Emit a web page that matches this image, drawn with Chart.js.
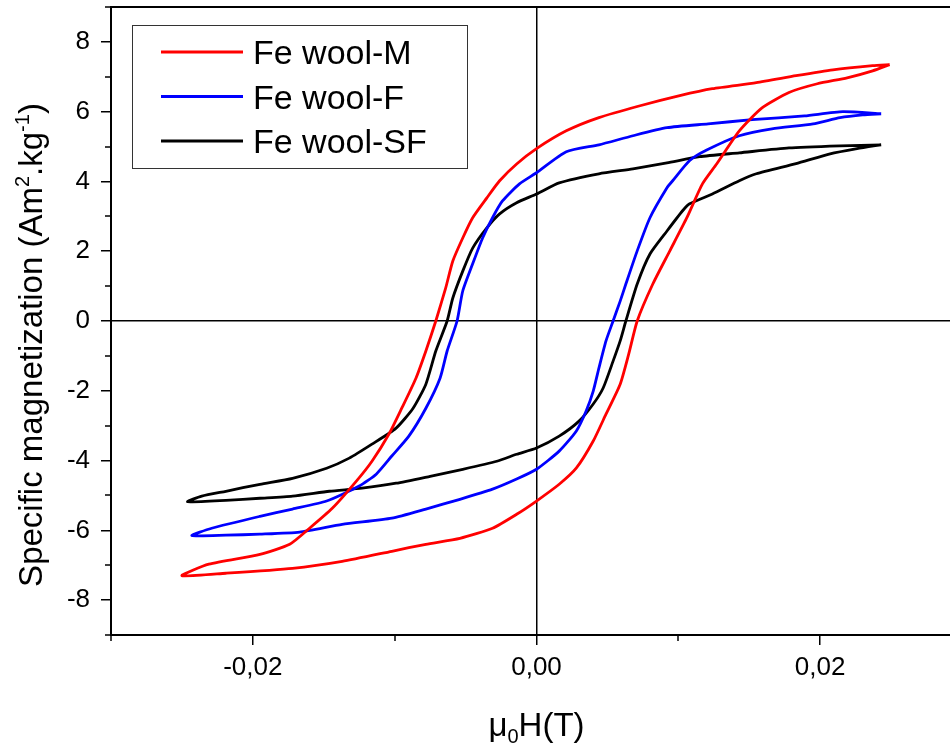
<!DOCTYPE html>
<html>
<head>
<meta charset="utf-8">
<script src="https://cdn.jsdelivr.net/npm/chart.js@4.4.1/dist/chart.umd.min.js"></script>
<style>
  html, body { margin: 0; padding: 0; background: #fff; overflow: hidden; }
  canvas { display: block; }
</style>
</head>
<body>
<canvas id="loopChart" width="970" height="744"></canvas>
<script>
const fieldTicks = [-0.02, 0, 0.02];
const fieldMinor = [-0.03, -0.01, 0.01, 0.03];
const magTicks = [-8, -6, -4, -2, 0, 2, 4, 6, 8];
const magMinor = [-9, -7, -5, -3, -1, 1, 3, 5, 7, 9];

const seriesNames = ['Fe wool-M', 'Fe wool-F', 'Fe wool-SF'];
const seriesColors = ['#ff0000', '#0000ff', '#000000'];

// [mu0H (T), magnetization (Am2/kg)] - descending branch first, then back up
const loopM = [
    [0.0249, 7.35], [0.0237, 7.32], [0.0209, 7.20], [0.0183, 7.03], [0.0155, 6.83],
    [0.0124, 6.66], [0.0101, 6.46], [0.0073, 6.17], [0.0044, 5.83], [0.0021, 5.45],
    [0.0, 4.94], [-0.0014, 4.50], [-0.0026, 4.02], [-0.0035, 3.53], [-0.0045, 2.96],
    [-0.0052, 2.38], [-0.0059, 1.72], [-0.0064, 0.95], [-0.0071, 0.0], [-0.0078, -0.86],
    [-0.0085, -1.64], [-0.0095, -2.50], [-0.0104, -3.24], [-0.0116, -4.02], [-0.0127, -4.59],
    [-0.0144, -5.37], [-0.0160, -5.94], [-0.0174, -6.40], [-0.0195, -6.69], [-0.0231, -6.97],
    [-0.0250, -7.30],
    [-0.0219, -7.23], [-0.0172, -7.09], [-0.0137, -6.89], [-0.0102, -6.60], [-0.0078, -6.40],
    [-0.0054, -6.23], [-0.0031, -5.94], [-0.0014, -5.54], [0.0, -5.16], [0.0016, -4.68],
    [0.0028, -4.22], [0.0040, -3.44], [0.0049, -2.67], [0.0059, -1.81], [0.0065, -0.95],
    [0.0071, 0.0], [0.0082, 1.06], [0.0094, 2.01], [0.0106, 2.96], [0.0117, 3.93],
    [0.0127, 4.50], [0.0143, 5.45], [0.0159, 6.11], [0.0178, 6.55], [0.0198, 6.80],
    [0.0219, 6.97], [0.0237, 7.17], [0.0249, 7.35]
];

const loopF = [
    [0.0243, 5.94], [0.0216, 6.00], [0.0189, 5.88], [0.0152, 5.77], [0.0121, 5.65],
    [0.0092, 5.54], [0.0068, 5.31], [0.0044, 5.05], [0.0021, 4.85], [0.0, 4.25],
    [-0.0012, 3.93], [-0.0024, 3.44], [-0.0031, 2.96], [-0.0038, 2.38], [-0.0045, 1.64],
    [-0.0052, 0.86], [-0.0056, 0.0], [-0.0063, -0.86], [-0.0068, -1.64], [-0.0078, -2.50],
    [-0.0090, -3.30], [-0.0102, -3.87], [-0.0113, -4.39], [-0.0125, -4.73], [-0.0148, -5.16],
    [-0.0172, -5.39], [-0.0195, -5.60], [-0.0229, -5.94], [-0.0243, -6.15],
    [-0.0219, -6.14], [-0.0195, -6.11], [-0.0167, -6.05], [-0.0137, -5.83], [-0.0102, -5.65],
    [-0.0078, -5.39], [-0.0054, -5.11], [-0.0031, -4.82], [-0.0014, -4.53], [0.0, -4.25],
    [0.0016, -3.73], [0.0028, -3.16], [0.0035, -2.58], [0.0040, -2.01], [0.0044, -1.35],
    [0.0049, -0.57], [0.0054, 0.0], [0.0059, 0.57], [0.0063, 1.06], [0.0071, 2.01],
    [0.0080, 2.96], [0.0092, 3.82], [0.0096, 4.02], [0.0108, 4.60], [0.0120, 4.90],
    [0.0143, 5.31], [0.0166, 5.51], [0.0195, 5.65], [0.0214, 5.83], [0.0230, 5.91],
    [0.0243, 5.94]
];

const loopSF = [
    [0.0243, 5.05], [0.0214, 5.02], [0.0178, 4.96], [0.0143, 4.82], [0.0115, 4.71],
    [0.0092, 4.53], [0.0068, 4.36], [0.0044, 4.22], [0.0016, 3.96], [0.0, 3.64],
    [-0.0014, 3.39], [-0.0026, 3.07], [-0.0035, 2.67], [-0.0045, 2.09], [-0.0052, 1.43],
    [-0.0059, 0.66], [-0.0063, 0.0], [-0.0071, -0.86], [-0.0078, -1.81], [-0.0087, -2.50],
    [-0.0099, -3.07], [-0.0116, -3.53], [-0.0132, -3.93], [-0.0148, -4.22], [-0.0172, -4.51],
    [-0.0195, -4.68], [-0.0219, -4.88], [-0.0236, -5.02], [-0.0246, -5.18],
    [-0.0219, -5.14], [-0.0195, -5.08], [-0.0172, -5.02], [-0.0146, -4.88], [-0.0123, -4.79],
    [-0.0099, -4.65], [-0.0075, -4.45], [-0.0052, -4.25], [-0.0028, -4.02], [-0.0014, -3.82],
    [0.0, -3.64], [0.0016, -3.30], [0.0030, -2.87], [0.0040, -2.38], [0.0047, -1.92],
    [0.0054, -1.15], [0.0059, -0.57], [0.0063, 0.0], [0.0071, 1.06], [0.0080, 1.92],
    [0.0092, 2.58], [0.0103, 3.16], [0.0108, 3.36], [0.0124, 3.64], [0.0143, 4.02],
    [0.0155, 4.22], [0.0183, 4.51], [0.0207, 4.79], [0.0226, 4.94], [0.0243, 5.05]
];

const loops = [loopM, loopF, loopSF];

// axis titles as runs of [text, 'n' | 'sup' | 'sub']
const xTitle = [['μ', 'n'], ['0', 'sub'], ['H(T)', 'n']];
const yTitle = [['Specific magnetization (Am', 'n'], ['2', 'sup'], ['.kg', 'n'], ['-1', 'sup'], [')', 'n']];

const FONT = "'Liberation Sans', Arial, sans-serif";
Chart.defaults.font.family = FONT;
Chart.defaults.color = '#000';

// short outward ticks between the labelled ones
const minorTicks = {
    id: 'minorTicks',
    afterDraw(chart) {
        const { ctx, chartArea: a, scales: { x, y } } = chart;
        ctx.save();
        ctx.strokeStyle = '#000';
        ctx.lineWidth = 1.5;
        ctx.beginPath();
        fieldMinor.forEach(v => {
            const px = Math.round(x.getPixelForValue(v));
            ctx.moveTo(px, a.bottom);
            ctx.lineTo(px, a.bottom + 6);
        });
        magMinor.forEach(v => {
            const py = Math.round(y.getPixelForValue(v));
            ctx.moveTo(a.left, py);
            ctx.lineTo(a.left - 6, py);
        });
        ctx.stroke();
        ctx.restore();
    }
};

// top and right sides of the plot box
const frame = {
    id: 'frame',
    afterDraw(chart) {
        const { ctx, chartArea: a } = chart;
        ctx.save();
        ctx.strokeStyle = '#000';
        ctx.lineWidth = 2;
        ctx.beginPath();
        ctx.moveTo(a.left, a.top);
        ctx.lineTo(a.right, a.top);
        ctx.lineTo(a.right, a.bottom);
        ctx.stroke();
        ctx.restore();
    }
};

// boxed legend in the upper-left corner of the plot
const boxLegend = {
    id: 'boxLegend',
    afterDraw(chart) {
        const { ctx, chartArea: a } = chart;
        const x0 = a.left + 21, y0 = a.top + 18, w = 335, h = 143;
        ctx.save();
        ctx.fillStyle = '#fff';
        ctx.fillRect(x0, y0, w, h);
        ctx.strokeStyle = '#333';
        ctx.lineWidth = 1;
        ctx.strokeRect(x0 + 0.5, y0 + 0.5, w, h);
        ctx.font = '34px ' + FONT;
        ctx.textBaseline = 'alphabetic';
        chart.data.datasets.forEach((ds, i) => {
            const cy = y0 + 27 + i * 44.5;
            ctx.strokeStyle = ds.borderColor;
            ctx.lineWidth = 2.8;
            ctx.beginPath();
            ctx.moveTo(x0 + 29, cy);
            ctx.lineTo(x0 + 111, cy);
            ctx.stroke();
            ctx.fillStyle = '#000';
            ctx.fillText(ds.label, x0 + 121, cy + 12);
        });
        ctx.restore();
    }
};

// draws a run list centred on (0, 0) along the current baseline
function drawRuns(ctx, runs, size) {
    const small = Math.round(size * 0.62);
    const fontOf = kind => (kind === 'n' ? size : small) + 'px ' + FONT;
    let total = 0;
    runs.forEach(([t, kind]) => { ctx.font = fontOf(kind); total += ctx.measureText(t).width; });
    let cx = -total / 2;
    runs.forEach(([t, kind]) => {
        ctx.font = fontOf(kind);
        const dy = kind === 'sup' ? -size * 0.38 : kind === 'sub' ? size * 0.22 : 0;
        ctx.fillText(t, cx, dy);
        cx += ctx.measureText(t).width;
    });
}

const axisTitles = {
    id: 'axisTitles',
    afterDraw(chart) {
        const { ctx, chartArea: a } = chart;
        ctx.save();
        ctx.fillStyle = '#000';
        ctx.textAlign = 'left';
        ctx.textBaseline = 'alphabetic';

        ctx.save();
        ctx.translate((a.left + a.right) / 2, 736);
        drawRuns(ctx, xTitle, 33);
        ctx.restore();

        ctx.save();
        ctx.translate(42, 345);
        ctx.rotate(-Math.PI / 2);
        drawRuns(ctx, yTitle, 33);
        ctx.restore();

        ctx.restore();
    }
};

const zeroLine = c => (c.tick && c.tick.value === 0 ? '#000' : 'rgba(0,0,0,0)');

new Chart(document.getElementById('loopChart'), {
    type: 'scatter',
    data: {
        datasets: loops.map((pts, i) => ({
            label: seriesNames[i],
            data: pts.map(([x, y]) => ({ x, y })),
            showLine: true,
            borderColor: seriesColors[i],
            backgroundColor: seriesColors[i],
            borderWidth: 2.8,
            pointRadius: 0,
            tension: 0.2
        }))
    },
    options: {
        responsive: false,
        animation: false,
        events: [],
        layout: { padding: { top: 7, right: 8, left: 0, bottom: 0 } },
        plugins: {
            legend: { display: false },
            tooltip: { enabled: false }
        },
        scales: {
            x: {
                type: 'linear',
                min: -0.03,
                max: 0.03,
                afterBuildTicks: s => { s.ticks = fieldTicks.map(v => ({ value: v })); },
                afterFit: s => {
                    s.height = 109;
                    s.paddingLeft = 0;
                    s.paddingRight = 0;
                },
                border: { color: '#000', width: 2 },
                grid: {
                    color: zeroLine,
                    lineWidth: 1.5,
                    tickColor: '#000',
                    tickLength: 10,
                    tickWidth: 1.5
                },
                ticks: {
                    color: '#000',
                    font: { size: 26 },
                    padding: 7,
                    maxRotation: 0,
                    callback: v => v.toFixed(2).replace('.', ',')
                },
                title: { display: false }
            },
            y: {
                type: 'linear',
                min: -9,
                max: 9,
                afterBuildTicks: s => { s.ticks = magTicks.map(v => ({ value: v })); },
                afterFit: s => {
                    s.width = 111;
                    s.paddingTop = 0;
                    s.paddingBottom = 0;
                },
                border: { color: '#000', width: 2 },
                grid: {
                    color: zeroLine,
                    lineWidth: 1.5,
                    tickColor: '#000',
                    tickLength: 10,
                    tickWidth: 1.5
                },
                ticks: {
                    color: '#000',
                    font: { size: 26 },
                    padding: 11,
                    callback: v => String(v)
                },
                title: { display: false }
            }
        }
    },
    plugins: [minorTicks, frame, boxLegend, axisTitles]
});
</script>
</body>
</html>
